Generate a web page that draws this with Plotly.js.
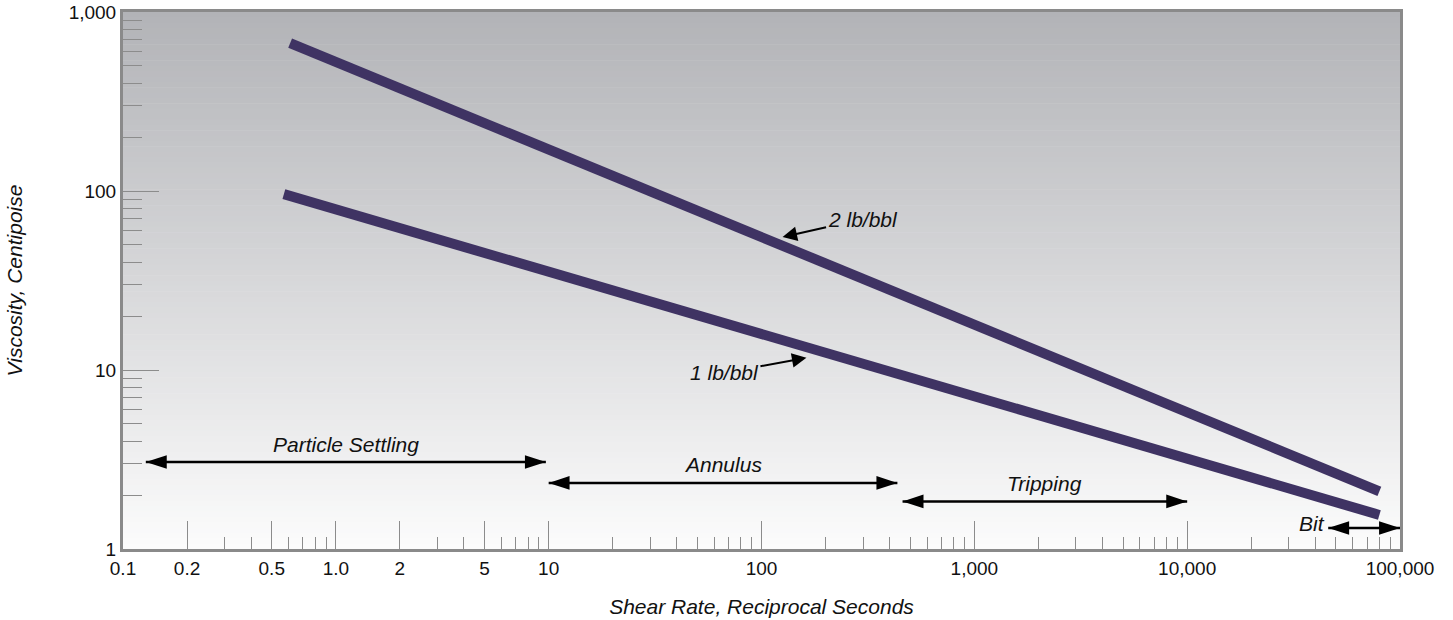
<!DOCTYPE html>
<html><head><meta charset="utf-8">
<script src="https://cdn.plot.ly/plotly-3.0.1.min.js"></script>
<style>html,body{margin:0;padding:0;background:#fff;}</style>
</head><body>
<div id="chart" style="width:1453px;height:620px;"></div>
<script>
// ---- data ----
const seriesNames = ['2 lb/bbl', '1 lb/bbl'];
const shearRate2 = [0.61, 80000];
const viscosity2 = [670, 2.1];
const shearRate1 = [0.57, 80000];
const viscosity1 = [96, 1.55];

const rangeLabels = ['Particle Settling', 'Annulus', 'Tripping', 'Bit'];
const rangeStart = [0.128, 10, 460, 46000];
const rangeEnd = [9.7, 435, 10000, 100000];
const rangeLevel = [3.06, 2.34, 1.845, 1.31];

const calloutText = ['2 lb/bbl', '1 lb/bbl'];
const calloutX = [125.6, 162.6];
const calloutY = [55.3, 11.7];

const xTickVals = [0.1, 0.2, 0.5, 1, 2, 5, 10, 100, 1000, 10000, 100000];
const xTickText = ['0.1', '0.2', '0.5', '1.0', '2', '5', '10', '100', '1,000', '10,000', '100,000'];
const xMinorVals = [0.3, 0.4, 0.6, 0.7, 0.8, 0.9, 3, 4, 6, 7, 8, 9,
  20, 30, 40, 50, 60, 70, 80, 90, 200, 300, 400, 500, 600, 700, 800, 900,
  2000, 3000, 4000, 5000, 6000, 7000, 8000, 9000,
  20000, 30000, 40000, 50000, 60000, 70000, 80000, 90000];
const xMediumTick = [0.3];
const yTickVals = [1, 10, 100, 1000];
const yTickText = ['1', '10', '100', '1,000'];
const yMinorVals = [2, 3, 4, 5, 6, 7, 8, 9, 20, 30, 40, 50, 60, 70, 80, 90,
  200, 300, 400, 500, 600, 700, 800, 900];

// ---- styling ----
const FONT = '"Liberation Sans Narrow", "Arial Narrow", "Liberation Sans", Arial, sans-serif';
const lineColor = '#3f3363';
const frameColor = '#8a8a8a';
const tickColor = '#8c8c8c';
const textFont = {family: FONT, size: 21, style: 'italic', color: '#111'};

const traces = [
  {x: shearRate2, y: viscosity2, name: seriesNames[0], mode: 'lines', type: 'scatter',
   line: {color: lineColor, width: 10}, hoverinfo: 'skip'},
  {x: shearRate1, y: viscosity1, name: seriesNames[1], mode: 'lines', type: 'scatter',
   line: {color: lineColor, width: 10}, hoverinfo: 'skip'}
];
rangeLabels.forEach((lab, i) => {
  traces.push({
    x: [rangeStart[i], rangeEnd[i]], y: [rangeLevel[i], rangeLevel[i]],
    mode: 'lines+markers', type: 'scatter', name: lab, hoverinfo: 'skip',
    line: {color: '#000', width: 2.5},
    marker: {symbol: 'arrow', size: 22, color: '#000', angle: [-90, 90], line: {width: 0}}
  });
});

// background gradient
const shapes = [];
const N = 100;
const gTop = [178, 179, 183], gBot = [252, 252, 252];
for (let i = 0; i < N; i++) {
  const t = (i + 0.5) / N;
  const c = gTop.map((v, k) => Math.round(v + (gBot[k] - v) * t));
  shapes.push({type: 'rect', xref: 'paper', yref: 'paper', x0: 0, x1: 1,
    y0: Math.max(0, 1 - (i + 1) / N - 0.001), y1: 1 - i / N, layer: 'below',
    fillcolor: `rgb(${c[0]},${c[1]},${c[2]})`, line: {width: 0}});
}
xMediumTick.forEach(v => {
  shapes.push({type: 'line', xref: 'x', yref: 'paper', x0: Math.log10(v), x1: Math.log10(v),
    y0: 0, y1: 19 / 537, line: {color: tickColor, width: 1}});
});

const annotations = [];
rangeLabels.forEach((lab, i) => {
  const isBit = lab === 'Bit';
  annotations.push({
    x: isBit ? Math.log10(rangeStart[i]) : (Math.log10(rangeStart[i]) + Math.log10(rangeEnd[i])) / 2,
    y: Math.log10(rangeLevel[i]), xref: 'x', yref: 'y', text: lab, showarrow: false,
    xanchor: isBit ? 'right' : 'center', yanchor: 'middle',
    xshift: isBit ? -1 : 0, yshift: isBit ? 5 : 18,
    font: textFont
  });
});
const calloutOffsets = [[80, -18], [-82, 15]];
calloutText.forEach((txt, i) => {
  annotations.push({
    x: Math.log10(calloutX[i]), y: Math.log10(calloutY[i]), xref: 'x', yref: 'y',
    text: txt, showarrow: true, arrowhead: 2, arrowsize: 1.45, arrowwidth: 2, arrowcolor: '#000',
    ax: calloutOffsets[i][0], ay: calloutOffsets[i][1], standoff: 0,
    font: textFont
  });
});

const layout = {
  width: 1453, height: 620,
  margin: {l: 123, r: 53, t: 12, b: 71},
  paper_bgcolor: '#fff', plot_bgcolor: '#fafafa',
  showlegend: false,
  xaxis: {
    type: 'log', range: [-1, 5], showgrid: false, zeroline: false,
    showline: true, linecolor: frameColor, linewidth: 3, mirror: true,
    tickmode: 'array', tickvals: xTickVals, ticktext: xTickText,
    ticks: 'inside', ticklen: 28, tickwidth: 1, tickcolor: tickColor,
    ticklabeloverflow: 'allow',
    tickfont: {family: FONT, size: 19, color: '#111'},
    minor: {tickmode: 'array', tickvals: xMinorVals, ticks: 'inside', ticklen: 12, tickwidth: 1, tickcolor: tickColor, showgrid: false},
    title: {text: 'Shear Rate, Reciprocal Seconds', standoff: 22, font: textFont}
  },
  yaxis: {
    type: 'log', range: [0, 3], showgrid: false, zeroline: false,
    showline: true, linecolor: frameColor, linewidth: 3, mirror: true,
    tickmode: 'array', tickvals: yTickVals, ticktext: yTickText,
    ticks: 'inside', ticklen: 36, tickwidth: 1, tickcolor: tickColor,
    ticklabeloverflow: 'allow',
    tickfont: {family: FONT, size: 19, color: '#111'},
    minor: {tickmode: 'array', tickvals: yMinorVals, ticks: 'inside', ticklen: 19, tickwidth: 1, tickcolor: tickColor, showgrid: false},
    title: {text: 'Viscosity, Centipoise', standoff: 41, font: textFont}
  },
  shapes: shapes,
  annotations: annotations
};

Plotly.newPlot('chart', traces, layout, {displayModeBar: false, staticPlot: true});
</script>
</body></html>
